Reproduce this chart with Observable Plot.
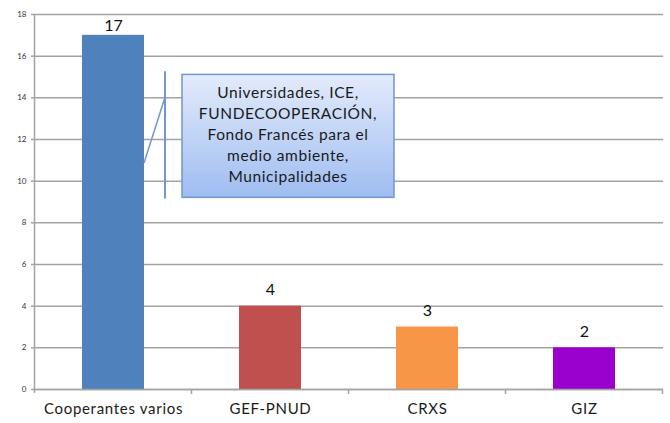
<!DOCTYPE html>
<html><head><meta charset="utf-8">
<script src="https://cdn.jsdelivr.net/npm/d3@7"></script>
<script src="https://cdn.jsdelivr.net/npm/@observablehq/plot@0.6"></script>
<style>body{margin:0;background:#fff} svg{display:block}</style>
</head><body><div id="chart"></div>
<script>
const categories = ["Cooperantes varios", "GEF-PNUD", "CRXS", "GIZ"];
const values = [17, 4, 3, 2];
const colors = ["#4f81bd", "#c0504d", "#f79646", "#9900cc"];
const yTicks = [0, 2, 4, 6, 8, 10, 12, 14, 16, 18];
const calloutLines = ["Universidades, ICE,", "FUNDECOOPERACIÓN,", "Fondo Francés para el", "medio ambiente,", "Municipalidades"];
const calloutY = [9.2, 15.1];      // box bottom/top in data units
const bracketY = [9.15, 15.25];    // vertical bracket line
const leaderY = [10.85, 14.0];     // leader line start (bar edge) / end (bracket)

const data = categories.map((c, i) => ({category: c, value: values[i], color: colors[i]}));
const grid = "#a3a3a3";

const plot = Plot.plot({
  width: 670, height: 423,
  marginLeft: 35, marginRight: 7, marginTop: 14, marginBottom: 34,
  style: {fontFamily: "Lato, 'Open Sans', sans-serif", background: "#fff"},
  x: {domain: categories, paddingInner: 0.605, paddingOuter: 0.3025, label: null},
  y: {domain: [0, 18], label: null},
  marks: [
    Plot.gridY(yTicks, {stroke: grid, strokeOpacity: 1, strokeWidth: 1.5}),
    Plot.barY(data, {x: "category", y: "value", fill: "color"}),
    Plot.ruleY([0], {stroke: grid, strokeWidth: 1.5}),
    Plot.axisY(yTicks, {tickSize: 4, tickPadding: 5, fontSize: 8, fill: "#333", stroke: grid, strokeWidth: 1.5, label: null}),
    Plot.axisX({tickSize: 0, tickPadding: 14, fontSize: 15, fill: "#1a1a1a", label: null}),
    Plot.text(data.filter(d => d.value < 10), {x: "category", y: "value", text: d => String(d.value), dy: -16, fontSize: 16, fill: "#111"}),
    Plot.text(data.filter(d => d.value >= 10), {x: "category", y: "value", text: d => String(d.value), dy: -9, fontSize: 16, fill: "#111"})
  ]
});
document.getElementById("chart").appendChild(plot);

// Calibri-like wider spacing for the category labels
d3.select(plot).selectAll("[aria-label='x-axis tick label'] text").attr("letter-spacing", "0.7px");

const xs = plot.scale("x"), ys = plot.scale("y");
const bw = xs.bandwidth;
const step = xs.step || bw / (1 - 0.605);
const svg = d3.select(plot);

// left axis line and bottom category separators
const x0 = xs.apply(categories[0]) - (step - bw) / 2;
svg.append("line").attr("x1", x0).attr("x2", x0).attr("y1", ys.apply(18)).attr("y2", ys.apply(0) + 4)
  .attr("stroke", grid).attr("stroke-width", 1.5);
for (let i = 1; i <= categories.length; i++) {
  const x = x0 + i * step;
  svg.append("line").attr("x1", x).attr("x2", x).attr("y1", ys.apply(0)).attr("y2", ys.apply(0) + 5)
    .attr("stroke", grid).attr("stroke-width", 1.5);
}

// callout
const defs = svg.append("defs");
const g = defs.append("linearGradient").attr("id", "calloutGrad").attr("x1", 0).attr("y1", 0).attr("x2", 0).attr("y2", 1);
g.append("stop").attr("offset", "0%").attr("stop-color", "#e3ebfb");
g.append("stop").attr("offset", "100%").attr("stop-color", "#9fbdf1");

const barRight = xs.apply(categories[0]) + bw;
const bracketX = barRight + 21;
const boxL = barRight + 38, boxR = barRight + 250;
const boxT = ys.apply(calloutY[1]), boxB = ys.apply(calloutY[0]);
const lineColor = "#7396cb";

svg.append("line").attr("x1", bracketX).attr("x2", bracketX)
  .attr("y1", ys.apply(bracketY[1])).attr("y2", ys.apply(bracketY[0]))
  .attr("stroke", lineColor).attr("stroke-width", 2);
svg.append("line").attr("x1", barRight).attr("y1", ys.apply(leaderY[0]))
  .attr("x2", bracketX).attr("y2", ys.apply(leaderY[1]))
  .attr("stroke", lineColor).attr("stroke-width", 1.5);
svg.append("rect").attr("x", boxL).attr("y", boxT).attr("width", boxR - boxL).attr("height", boxB - boxT)
  .attr("fill", "url(#calloutGrad)").attr("stroke", lineColor).attr("stroke-width", 1.5);
const cx = (boxL + boxR) / 2, cy = (boxT + boxB) / 2 - 1.5;
const lh = 21;
const t = svg.append("text").attr("text-anchor", "middle").attr("font-size", 15.5)
  .attr("letter-spacing", "0.6px")
  .attr("font-family", "Lato, 'Open Sans', sans-serif").attr("fill", "#1a1a1a");
calloutLines.forEach((s, i) => {
  t.append("tspan").attr("x", cx).attr("y", cy + (i - (calloutLines.length - 1) / 2) * lh).attr("dy", "0.35em").text(s);
});
</script>
</body></html>
